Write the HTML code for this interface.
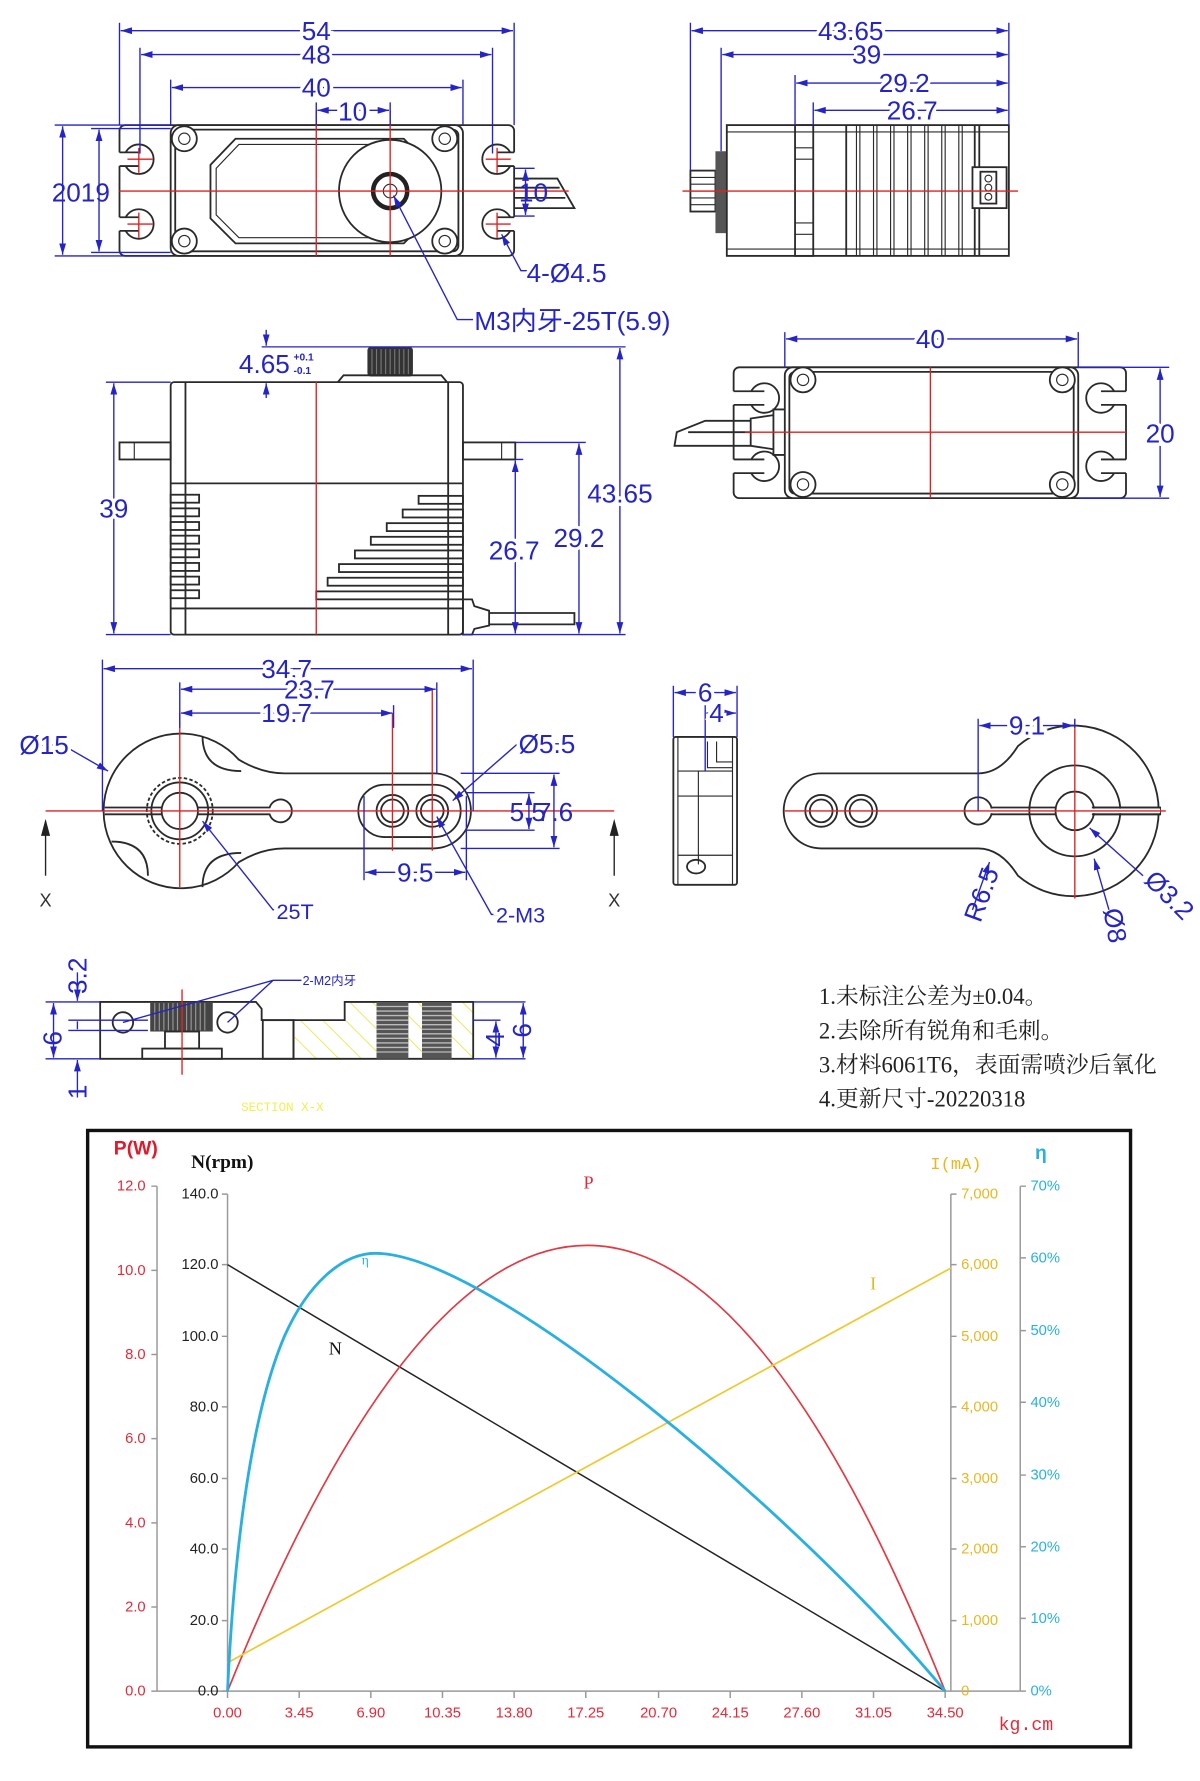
<!DOCTYPE html>
<html><head><meta charset="utf-8"><style>
html,body{margin:0;padding:0;background:#fff;}
svg{display:block;}
.o{stroke:#2a2a2a;stroke-width:1.6;fill:none;}
.of{stroke:#2a2a2a;stroke-width:1.6;fill:#fff;}
.t{stroke:#2a2a2a;stroke-width:1;fill:none;}
.r{stroke:#e02020;stroke-width:1.2;fill:none;}
.d{stroke:#2424c8;stroke-width:1.2;fill:none;}
.dt{fill:#2424c8;font-family:"Liberation Sans Narrow","Liberation Sans",sans-serif;font-size:23px;stroke:#fff;stroke-width:6;paint-order:stroke;}
.cn{font-family:"Liberation Serif","Noto Serif CJK SC",serif;font-size:20px;fill:#222;}
.ax{stroke:#999;stroke-width:1.3;fill:none;}
.tk{font-family:"Liberation Sans Narrow","Liberation Sans",sans-serif;font-size:13px;}
</style></head><body>
<svg width="1200" height="1781" viewBox="0 0 1055 1566" xmlns="http://www.w3.org/2000/svg">
<defs>
<marker id="a" viewBox="0 0 10 6" refX="10" refY="3" markerWidth="10" markerHeight="6" orient="auto-start-reverse" markerUnits="userSpaceOnUse"><path d="M0,0 L10,3 L0,6z" fill="#2424c8"/></marker>
<pattern id="h" width="14" height="14" patternUnits="userSpaceOnUse" patternTransform="rotate(-45)"><line x1="0" y1="0" x2="0" y2="14" stroke="#e6e650" stroke-width="1.5"/></pattern>
</defs>

<!-- ===== TOP-LEFT VIEW ===== -->
<g>
<rect x="105" y="110" width="347" height="115" rx="5" class="o"/>
<g class="of">
<circle cx="122" cy="140" r="13"/><circle cx="122" cy="197" r="13"/>
<circle cx="437" cy="140" r="13"/><circle cx="437" cy="197" r="13"/>
</g>
<g fill="#fff"><rect x="103" y="134" width="20" height="12"/><rect x="103" y="191" width="20" height="12"/><rect x="436" y="134" width="18" height="12"/><rect x="436" y="191" width="18" height="12"/></g>
<g class="o"><path d="M105,134h17M105,146h17M105,191h17M105,203h17M437,134h15M437,146h15M437,191h15M437,203h15"/></g>
<rect x="150" y="110" width="257" height="115" rx="7" class="of"/>
<rect x="154" y="114" width="249" height="107" rx="5" class="o"/>
<polygon points="207,122 355,122 377,145 377,192 355,214 207,214 185,192 185,145" class="o"/>
<polygon points="210,127 352,127 372,148 372,189 352,209 210,209 190,189 190,148" class="t"/>
<circle cx="343" cy="168" r="45" class="of"/>
<circle cx="343" cy="168" r="15" fill="none" stroke="#222" stroke-width="4"/>
<circle cx="343" cy="168" r="6" class="t"/>
<g class="of"><circle cx="162" cy="122" r="11"/><circle cx="162" cy="212" r="11"/><circle cx="391" cy="122" r="11"/><circle cx="391" cy="212" r="11"/></g>
<g class="t"><circle cx="162" cy="122" r="5"/><circle cx="162" cy="212" r="5"/><circle cx="391" cy="122" r="5"/><circle cx="391" cy="212" r="5"/></g>
<path d="M452,157 L490,157 L505,183 L452,183 M452,165 L492,165 M452,174 L497,174" class="o"/>
<path d="M105,168H500 M278,97V225 M343,97V225 M112,140h22M122,130v22M112,197h22M122,187v22M427,140h22M437,130v22M427,197h22M437,187v22" class="r"/>
<path d="M105,110V20 M452,110V20 M123,135V42 M433,135V42 M150,110V70 M407,110V70 M278,110V90 M343,110V90" class="d"/>
<line x1="106" y1="27" x2="451" y2="27" class="d" marker-start="url(#a)" marker-end="url(#a)"/>
<line x1="124" y1="48" x2="432" y2="48" class="d" marker-start="url(#a)" marker-end="url(#a)"/>
<line x1="151" y1="77" x2="406" y2="77" class="d" marker-start="url(#a)" marker-end="url(#a)"/>
<line x1="279" y1="97" x2="342" y2="97" class="d" marker-start="url(#a)" marker-end="url(#a)"/>
<text x="278" y="35" class="dt" text-anchor="middle">54</text>
<text x="278" y="56" class="dt" text-anchor="middle">48</text>
<text x="278" y="85" class="dt" text-anchor="middle">40</text>
<text x="310" y="106" class="dt" text-anchor="middle">10</text>
<path d="M48,110H150 M80,113H150 M48,225H150 M80,222H150" class="d"/>
<line x1="55" y1="111" x2="55" y2="224" class="d" marker-start="url(#a)" marker-end="url(#a)"/>
<line x1="87" y1="114" x2="87" y2="221" class="d" marker-start="url(#a)" marker-end="url(#a)"/>
<text x="71" y="177" class="dt" text-anchor="middle" style="stroke-width:0">2019</text>
<path d="M452,148H470 M452,190H470" class="d"/>
<line x1="462" y1="149" x2="462" y2="189" class="d" marker-start="url(#a)" marker-end="url(#a)"/>
<text x="469" y="177" class="dt" text-anchor="middle" style="stroke-width:0">10</text>
<path d="M441,206 L458,238 H464" class="d" marker-start="url(#a)"/>
<text x="463" y="248" class="dt">4-Ø4.5</text>
<path d="M346,172 L402,281 H416" class="d" marker-start="url(#a)"/>
<text x="417" y="290" class="dt" style="font-family:'Liberation Sans Narrow','Liberation Sans','Noto Sans CJK SC',sans-serif">M3内牙-25T(5.9)</text>
</g>

<!-- ===== TOP-RIGHT VIEW ===== -->
<g>
<rect x="607" y="150" width="22" height="36" class="o"/>
<path d="M607,156h22M607,162h22M607,168h22M607,174h22M607,180h22" class="t"/>
<rect x="629" y="133" width="10" height="72" fill="#555"/>
<rect x="639" y="110" width="248" height="115" class="of"/>
<path d="M639,116H887 M639,219H887" class="t"/>
<rect x="699" y="110" width="16" height="115" class="o"/>
<path d="M699,130h16M699,140h16M699,196h16M699,206h16" class="t"/>
<path d="M744,110V225 M857,110V225 M861,110V225" class="o"/>
<path d="M753,110V225 M756,110V225 M768,110V225 M771,110V225 M783,110V225 M786,110V225 M798,110V225 M801,110V225 M813,110V225 M816,110V225 M828,110V225 M831,110V225 M843,110V225 M846,110V225" class="t"/>
<rect x="855" y="147" width="30" height="36" class="of" stroke-width="2"/>
<rect x="862" y="151" width="14" height="28" class="o"/>
<g class="t"><circle cx="869" cy="157" r="3"/><circle cx="869" cy="165" r="3"/><circle cx="869" cy="173" r="3"/></g>
<path d="M600,168H895" class="r"/>
<path d="M607,150V20 M887,110V20 M634,133V42 M699,110V66 M715,110V90" class="d"/>
<line x1="608" y1="27" x2="886" y2="27" class="d" marker-start="url(#a)" marker-end="url(#a)"/>
<line x1="635" y1="48" x2="886" y2="48" class="d" marker-start="url(#a)" marker-end="url(#a)"/>
<line x1="700" y1="73" x2="886" y2="73" class="d" marker-start="url(#a)" marker-end="url(#a)"/>
<line x1="716" y1="97" x2="886" y2="97" class="d" marker-start="url(#a)" marker-end="url(#a)"/>
<text x="748" y="35" class="dt" text-anchor="middle">43.65</text>
<text x="762" y="56" class="dt" text-anchor="middle">39</text>
<text x="795" y="81" class="dt" text-anchor="middle">29.2</text>
<text x="802" y="105" class="dt" text-anchor="middle">26.7</text>
</g>

<!-- ===== SIDE VIEW ===== -->
<g>
<rect x="323" y="305" width="40" height="26" rx="3" fill="#333"/>
<path d="M327,307v22M331,307v22M335,307v22M339,307v22M343,307v22M347,307v22M351,307v22M355,307v22M359,307v22" stroke="#777" stroke-width="1"/>
<path d="M297,336 L302,330 H388 L393,336" class="o"/>
<rect x="150" y="336" width="257" height="222" rx="3" class="o"/>
<path d="M163,336V558 M394,336V558 M150,425H407 M150,535H407" class="o"/>
<rect x="105" y="389" width="45" height="15" class="o"/><path d="M118,389v15" class="t"/>
<rect x="407" y="389" width="46" height="15" class="o"/><path d="M441,389v15" class="t"/>
<g class="o">
<rect x="150" y="435" width="25" height="7"/><rect x="150" y="447" width="25" height="7"/><rect x="150" y="459" width="25" height="7"/><rect x="150" y="471" width="25" height="7"/><rect x="150" y="483" width="25" height="7"/><rect x="150" y="495" width="25" height="7"/><rect x="150" y="507" width="25" height="7"/><rect x="150" y="519" width="25" height="7"/>
<rect x="368" y="436" width="39" height="7"/><rect x="354" y="448" width="53" height="7"/><rect x="340" y="460" width="67" height="7"/><rect x="326" y="472" width="81" height="7"/><rect x="312" y="484" width="95" height="7"/><rect x="298" y="496" width="109" height="7"/><rect x="288" y="508" width="119" height="7"/><rect x="278" y="520" width="129" height="7"/>
</g>
<path d="M407,527 L415,527 L417,533 L430,537 L430,550 L417,553 L415,558 L407,558 Z M430,539 H505 V549 H430" class="o"/>
<path d="M278,336V558" class="r"/>
<path d="M93,336H150 M230,305H550 M453,389H515 M453,404H460 M407,558H550 M93,558H150" class="d"/>
<line x1="100" y1="337" x2="100" y2="557" class="d" marker-start="url(#a)" marker-end="url(#a)"/>
<line x1="545" y1="306" x2="545" y2="557" class="d" marker-start="url(#a)" marker-end="url(#a)"/>
<line x1="509" y1="390" x2="509" y2="557" class="d" marker-start="url(#a)" marker-end="url(#a)"/>
<line x1="453" y1="405" x2="453" y2="557" class="d" marker-start="url(#a)" marker-end="url(#a)"/>
<line x1="234" y1="290" x2="234" y2="304" class="d" marker-end="url(#a)"/>
<line x1="234" y1="350" x2="234" y2="337" class="d" marker-end="url(#a)"/>
<text x="100" y="455" class="dt" text-anchor="middle">39</text>
<text x="545" y="442" class="dt" text-anchor="middle">43.65</text>
<text x="509" y="481" class="dt" text-anchor="middle">29.2</text>
<text x="452" y="492" class="dt" text-anchor="middle">26.7</text>
<text x="210" y="328" class="dt" style="stroke-width:0">4.65</text>
<text x="258" y="317" style="fill:#2424c8;font:bold 9px 'Liberation Sans',sans-serif">+0.1</text>
<text x="258" y="329" style="fill:#2424c8;font:bold 9px 'Liberation Sans',sans-serif">-0.1</text>
</g>

<!-- ===== BOTTOM VIEW ===== -->
<g>
<rect x="645" y="323" width="345" height="115" rx="5" class="o"/>
<g class="of"><circle cx="672" cy="350" r="13"/><circle cx="672" cy="410" r="13"/><circle cx="968" cy="350" r="13"/><circle cx="968" cy="410" r="13"/></g>
<g fill="#fff"><rect x="643" y="344" width="28" height="12"/><rect x="643" y="404" width="28" height="12"/><rect x="968" y="344" width="24" height="12"/><rect x="968" y="404" width="24" height="12"/></g>
<path d="M645,344h27M645,356h27M645,404h27M645,416h27M968,344h22M968,356h22M968,404h22M968,416h22" class="o"/>
<rect x="690" y="323" width="258" height="115" rx="7" class="of"/>
<rect x="694" y="327" width="250" height="107" rx="5" class="o"/>
<g class="of"><circle cx="706" cy="334" r="11"/><circle cx="706" cy="426" r="11"/><circle cx="934" cy="334" r="11"/><circle cx="934" cy="426" r="11"/></g>
<g class="t"><circle cx="706" cy="334" r="5"/><circle cx="706" cy="426" r="5"/><circle cx="934" cy="334" r="5"/><circle cx="934" cy="426" r="5"/></g>
<path d="M690,360 H680 V400 H690 M680,365 L660,368 V392 L680,395 M660,370 H620 L595,380 L593,392 L660,392 M660,380 H605" class="o"/>
<path d="M818,323V438 M655,380H990" class="r"/>
<path d="M690,323V292 M948,323V292 M948,323H1028 M948,438H1028" class="d"/>
<line x1="691" y1="298" x2="947" y2="298" class="d" marker-start="url(#a)" marker-end="url(#a)"/>
<line x1="1020" y1="324" x2="1020" y2="437" class="d" marker-start="url(#a)" marker-end="url(#a)"/>
<text x="818" y="306" class="dt" text-anchor="middle">40</text>
<text x="1020" y="389" class="dt" text-anchor="middle">20</text>
</g>

<!-- ===== LEFT HORN ===== -->
<g>
<path d="M210,668 Q230,680 250,680 H381 A33,33 0 0 1 381,746 H250 Q230,746 210,758 A68,68 0 1 1 210,668 Z" class="o"/>
<path d="M92,710 H237 A10,10 0 1 1 237,716 H92" class="of"/>
<path d="M178,647 Q178,678 212,678 M178,780 Q178,750 212,750 M98,740 Q130,740 130,770" class="o"/>
<circle cx="158" cy="713" r="29" class="o" stroke-dasharray="3,2"/>
<circle cx="158" cy="713" r="25" class="o"/>
<circle cx="158" cy="713" r="16" class="of"/>
<path d="M338,690 H382 A23,23 0 0 1 382,736 H338 A23,23 0 0 1 338,690 Z" class="o"/>
<g class="o"><circle cx="345" cy="713" r="14"/><circle cx="345" cy="713" r="10"/><circle cx="380" cy="713" r="14"/><circle cx="380" cy="713" r="10"/></g>
<path d="M40,713H540 M158,627V780 M345,627V748 M380,606V748" class="r"/>
<path d="M90,713V580 M416,713V580 M158,640V600 M384,680V600 M346,640V620 M320,700V774 M410,700V774 M405,680H492 M410,697H470 M410,730H470 M405,746H492" class="d"/>
<line x1="91" y1="588" x2="415" y2="588" class="d" marker-start="url(#a)" marker-end="url(#a)"/>
<line x1="159" y1="606" x2="383" y2="606" class="d" marker-start="url(#a)" marker-end="url(#a)"/>
<line x1="159" y1="627" x2="345" y2="627" class="d" marker-start="url(#a)" marker-end="url(#a)"/>
<line x1="321" y1="767" x2="409" y2="767" class="d" marker-start="url(#a)" marker-end="url(#a)"/>
<line x1="465" y1="698" x2="465" y2="729" class="d" marker-start="url(#a)" marker-end="url(#a)"/>
<line x1="487" y1="681" x2="487" y2="745" class="d" marker-start="url(#a)" marker-end="url(#a)"/>
<text x="252" y="596" class="dt" text-anchor="middle">34.7</text>
<text x="272" y="614" class="dt" text-anchor="middle">23.7</text>
<text x="252" y="635" class="dt" text-anchor="middle">19.7</text>
<text x="365" y="775" class="dt" text-anchor="middle">9.5</text>
<text x="448" y="722" class="dt" style="stroke-width:0">5.5</text>
<text x="472" y="722" class="dt" style="stroke-width:0">7.6</text>
<path d="M18,655 H55 L95,678" class="d" marker-end="url(#a)"/>
<text x="17" y="663" class="dt">Ø15</text>
<path d="M505,654 H455 L398,704" class="d" marker-end="url(#a)"/>
<text x="456" y="662" class="dt">Ø5.5</text>
<path d="M178,722 L240,800 H246" class="d" marker-start="url(#a)"/>
<text x="243" y="808" class="dt" style="font-size:19px">25T</text>
<path d="M384,718 L432,804 H438" class="d" marker-start="url(#a)"/>
<text x="436" y="811" class="dt" style="font-size:19px">2-M3</text>
<path d="M36,735 L40,720 L44,735Z M536,735 L540,720 L544,735Z" fill="#222"/>
<line x1="40" y1="770" x2="40" y2="722" stroke="#222" stroke-width="1.2"/>
<line x1="540" y1="770" x2="540" y2="722" stroke="#222" stroke-width="1.2"/>
<text x="40" y="797" text-anchor="middle" style="font:16px 'Liberation Sans',sans-serif;fill:#333">X</text>
<text x="540" y="797" text-anchor="middle" style="font:16px 'Liberation Sans',sans-serif;fill:#333">X</text>
</g>

<!-- ===== SMALL SIDE ===== -->
<g>
<rect x="592" y="648" width="56" height="130" rx="2" class="o"/>
<path d="M596,648V778 M644,648V778 M622,652V675 H644 M596,678H644 M596,700H644 M596,752H644 M614,678V760 M630,652V670H644" class="t"/>
<ellipse cx="612" cy="762" rx="8" ry="6" class="o"/>
<path d="M592,648V603 M648,648V603 M620,678V620" class="d"/>
<line x1="593" y1="609" x2="647" y2="609" class="d" marker-start="url(#a)" marker-end="url(#a)"/>
<line x1="621" y1="627" x2="647" y2="627" class="d" marker-start="url(#a)" marker-end="url(#a)"/>
<text x="620" y="617" class="dt" text-anchor="middle">6</text>
<text x="630" y="635" class="dt" text-anchor="middle">4</text>
</g>

<!-- ===== RIGHT HORN ===== -->
<g>
<path d="M895,656 Q880,680 860,680 H722 A33,33 0 0 0 722,746 H860 Q880,746 895,770 A75,75 0 1 0 895,656 Z" class="o"/>
<path d="M872,710 H1020 V716 H872" class="of"/>
<circle cx="860" cy="713" r="12" class="of"/>
<rect x="868" y="711" width="10" height="4" fill="#fff"/>
<circle cx="945" cy="713" r="40" class="o"/>
<circle cx="945" cy="713" r="17" class="of"/>
<rect x="960" y="711" width="60" height="4" fill="#fff"/>
<path d="M960,710H1020 M960,716H1020" class="o"/>
<g class="o"><circle cx="722" cy="713" r="14"/><circle cx="722" cy="713" r="10"/><circle cx="757" cy="713" r="14"/><circle cx="757" cy="713" r="10"/></g>
<path d="M690,713H1025 M945,633V790" class="r"/>
<path d="M860,713V632 M945,640V632" class="d"/>
<line x1="861" y1="638" x2="944" y2="638" class="d" marker-start="url(#a)" marker-end="url(#a)"/>
<text x="903" y="646" class="dt" text-anchor="middle">9.1</text>
<path d="M855,800 L870,758" class="d" marker-end="url(#a)"/>
<text x="862" y="812" class="dt" transform="rotate(-70 862 812)" style="stroke-width:0">R6.5</text>
<path d="M975,800 L962,755" class="d" marker-end="url(#a)"/>
<text x="970" y="800" class="dt" transform="rotate(80 970 800)" style="stroke-width:0">Ø8</text>
<path d="M1005,770 L958,728" class="d" marker-end="url(#a)"/>
<text x="1005" y="775" class="dt" transform="rotate(45 1005 775)" style="stroke-width:0">Ø3.2</text>
</g>

<!-- ===== SECTION X-X ===== -->
<g>
<path d="M88,881 H225 L230,887 V897 H258 V931 H88 Z" class="o"/>
<rect x="231" y="897" width="27" height="34" class="o"/>
<rect x="132" y="881" width="55" height="26" fill="#444"/>
<path d="M136,882v24M140,882v24M144,882v24M148,882v24M152,882v24M156,882v24M160,882v24M164,882v24M168,882v24M172,882v24M176,882v24M180,882v24" stroke="#999" stroke-width="1"/>
<rect x="145" y="907" width="30" height="15" class="o"/>
<rect x="125" y="922" width="70" height="9" class="o"/>
<circle cx="108" cy="899" r="9" class="o"/><circle cx="200" cy="899" r="9" class="o"/>
<path d="M258,897 H303 V881 H416 V931 H258 Z" fill="url(#h)" stroke="#2a2a2a" stroke-width="1.6"/>
<rect x="331" y="881" width="28" height="50" fill="#555"/>
<rect x="371" y="881" width="26" height="50" fill="#555"/>
<path d="M331,885h28M331,889h28M331,893h28M331,897h28M331,901h28M331,905h28M331,909h28M331,913h28M331,917h28M331,921h28M331,925h28M371,885h26M371,889h26M371,893h26M371,897h26M371,901h26M371,905h26M371,909h26M371,913h26M371,917h26M371,921h26M371,925h26" stroke="#bbb" stroke-width="1.2"/>
<path d="M160,870V945" class="r"/>
<path d="M108,899 L240,862 H265 M200,899 L240,862" class="d"/>
<text x="266" y="866" style="fill:#2424c8;font:11px 'Liberation Sans','Noto Sans CJK SC',sans-serif">2-M2内牙</text>
<path d="M40,881H88 M60,897H130 M60,906H130 M40,931H88 M416,881H462 M416,897H440 M416,931H462" class="d"/>
<line x1="47" y1="882" x2="47" y2="930" class="d" marker-start="url(#a)" marker-end="url(#a)"/>
<line x1="68" y1="855" x2="68" y2="880" class="d" marker-end="url(#a)"/>
<line x1="68" y1="898" x2="68" y2="905" class="d"/>
<line x1="68" y1="965" x2="68" y2="932" class="d" marker-end="url(#a)"/>
<line x1="436" y1="898" x2="436" y2="930" class="d" marker-start="url(#a)" marker-end="url(#a)"/>
<line x1="460" y1="882" x2="460" y2="930" class="d" marker-start="url(#a)" marker-end="url(#a)"/>
<text x="54" y="913" class="dt" transform="rotate(-90 54 913)" text-anchor="middle" style="stroke-width:0">6</text>
<text x="76" y="858" class="dt" transform="rotate(-90 76 858)" text-anchor="middle" style="stroke-width:0">3.2</text>
<text x="76" y="960" class="dt" transform="rotate(-90 76 960)" text-anchor="middle" style="stroke-width:0">1</text>
<text x="443" y="914" class="dt" transform="rotate(-90 443 914)" text-anchor="middle" style="stroke-width:0">4</text>
<text x="467" y="906" class="dt" transform="rotate(-90 467 906)" text-anchor="middle" style="stroke-width:0">6</text>
<text x="212" y="977" style="fill:#f0f050;font:11px 'Liberation Mono',monospace">SECTION X-X</text>
</g>

<!-- notes -->
<text x="720" y="883" class="cn">1.未标注公差为±0.04。</text>
<text x="720" y="913" class="cn">2.去除所有锐角和毛刺。</text>
<text x="720" y="943" class="cn">3.材料6061T6，表面需喷沙后氧化</text>
<text x="720" y="973" class="cn">4.更新尺寸-20220318</text>

<!-- ===== CHART ===== -->
<g>
<rect x="77" y="994" width="917" height="542" fill="#fff" stroke="#111" stroke-width="3"/>
<path d="M138,1043V1487 M200,1050V1487 M836,1050V1487 M897,1043V1487 M138,1487H897" class="ax"/>
<g class="ax">
<path d="M133,1043h5M133,1117h5M133,1191h5M133,1265h5M133,1339h5M133,1413h5M133,1487h5"/>
<path d="M195,1050h5M195,1112h5M195,1175h5M195,1237h5M195,1300h5M195,1362h5M195,1425h5M195,1487h5"/>
<path d="M836,1050h5M836,1112h5M836,1175h5M836,1237h5M836,1300h5M836,1362h5M836,1425h5"/>
<path d="M897,1043h5M897,1106h5M897,1170h5M897,1233h5M897,1297h5M897,1360h5M897,1423h5M897,1487h5"/>
<path d="M200,1487v6M263,1487v6M326,1487v6M389,1487v6M452,1487v6M515,1487v6M579,1487v6M642,1487v6M705,1487v6M768,1487v6M831,1487v6"/>
</g>
<g class="tk" fill="#e02b3a" text-anchor="end">
<text x="128" y="1047">12.0</text><text x="128" y="1121">10.0</text><text x="128" y="1195">8.0</text><text x="128" y="1269">6.0</text><text x="128" y="1343">4.0</text><text x="128" y="1417">2.0</text><text x="128" y="1491">0.0</text>
</g>
<g class="tk" fill="#222" text-anchor="end">
<text x="192" y="1054">140.0</text><text x="192" y="1116">120.0</text><text x="192" y="1179">100.0</text><text x="192" y="1241">80.0</text><text x="192" y="1304">60.0</text><text x="192" y="1366">40.0</text><text x="192" y="1429">20.0</text><text x="192" y="1491">0.0</text>
</g>
<g class="tk" fill="#e8b820">
<text x="845" y="1054">7,000</text><text x="845" y="1116">6,000</text><text x="845" y="1179">5,000</text><text x="845" y="1241">4,000</text><text x="845" y="1304">3,000</text><text x="845" y="1366">2,000</text><text x="845" y="1429">1,000</text><text x="845" y="1491">0</text>
</g>
<g class="tk" fill="#2ab0e0">
<text x="906" y="1047">70%</text><text x="906" y="1110">60%</text><text x="906" y="1174">50%</text><text x="906" y="1237">40%</text><text x="906" y="1301">30%</text><text x="906" y="1364">20%</text><text x="906" y="1427">10%</text><text x="906" y="1491">0%</text>
</g>
<g class="tk" fill="#e02b3a" text-anchor="middle">
<text x="200" y="1510">0.00</text><text x="263" y="1510">3.45</text><text x="326" y="1510">6.90</text><text x="389" y="1510">10.35</text><text x="452" y="1510">13.80</text><text x="515" y="1510">17.25</text><text x="579" y="1510">20.70</text><text x="642" y="1510">24.15</text><text x="705" y="1510">27.60</text><text x="768" y="1510">31.05</text><text x="831" y="1510">34.50</text>
</g>
<line x1="200" y1="1112" x2="831" y2="1487" stroke="#222" stroke-width="1.3"/>
<path d="M200,1487 Q517,703 831,1487" stroke="#e23a44" stroke-width="1.5" fill="none"/>
<line x1="200" y1="1462" x2="836" y2="1115" stroke="#f0c830" stroke-width="1.5"/>
<path d="M200,1487 C205,1380 218,1250 250,1175 C270,1130 300,1102 330,1102 C430,1102 700,1330 831,1487" stroke="#2ab0e0" stroke-width="2.5" fill="none"/>
<text x="100" y="1015" style="fill:#e01a2a;font:bold 17px 'Liberation Sans',sans-serif">P(W)</text>
<text x="168" y="1027" style="fill:#111;font:bold 17px 'Liberation Serif',serif">N(rpm)</text>
<text x="818" y="1028" style="fill:#e8b820;font:15px 'Liberation Mono',monospace">I(mA)</text>
<text x="910" y="1019" style="fill:#2ab0e0;font:bold 17px 'Liberation Sans',sans-serif">η</text>
<text x="513" y="1045" style="fill:#e02b3a;font:16px 'Liberation Serif',serif">P</text>
<text x="765" y="1134" style="fill:#e8b820;font:16px 'Liberation Serif',serif">I</text>
<text x="289" y="1191" style="fill:#111;font:16px 'Liberation Serif',serif">N</text>
<text x="318" y="1112" style="fill:#2ab0e0;font:12px 'Liberation Serif',serif">η</text>
<text x="878" y="1521" style="fill:#e02b3a;font:16px 'Liberation Mono',monospace">kg.cm</text>
</g>
</svg>
</body></html>
